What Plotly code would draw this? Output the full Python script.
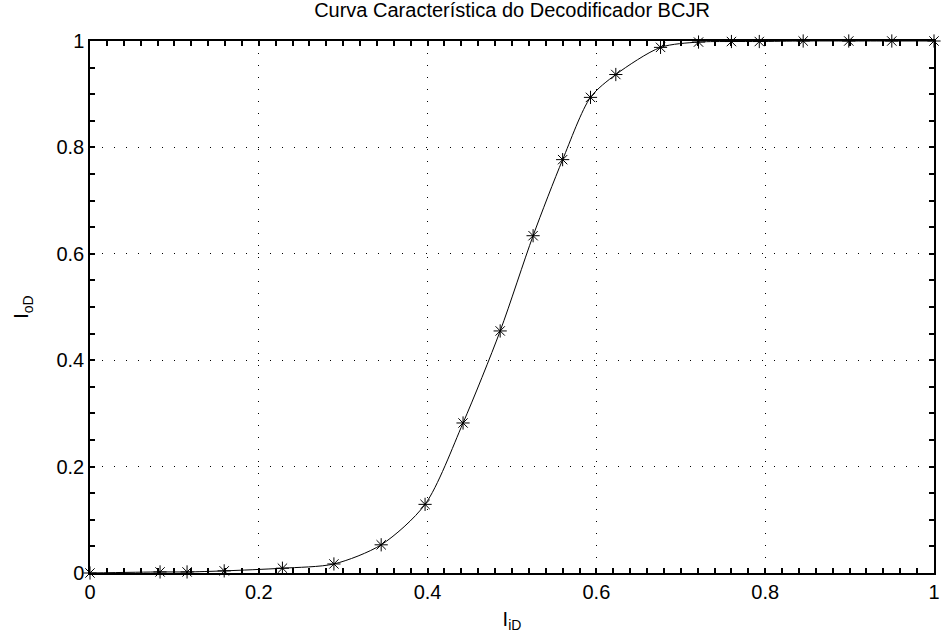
import plotly.graph_objects as go

# EXIT-style transfer characteristic of the BCJR decoder
i_in = [0.0, 0.083, 0.115, 0.159, 0.228, 0.289, 0.345, 0.397, 0.442, 0.486, 0.525,
        0.560, 0.593, 0.623, 0.676, 0.721, 0.760, 0.793, 0.845, 0.899, 0.950, 1.0]
i_out = [0.0, 0.002, 0.002, 0.004, 0.009, 0.017, 0.053, 0.129, 0.282, 0.455, 0.634,
         0.777, 0.894, 0.937, 0.988, 0.998, 0.999, 0.999, 1.0, 1.0, 1.0, 1.0]

# axis tick layout: major step and minor step for each axis
x_major, x_minor = 0.2, 0.02
y_major, y_minor = 0.2, 0.05
x_range = [0, 1]
y_range = [0, 1]

FONT = "Liberation Sans, Arial, Helvetica, sans-serif"

fig = go.Figure()
fig.add_trace(go.Scatter(
    x=i_in, y=i_out,
    mode="lines+markers",
    line=dict(color="black", width=1, shape="spline", smoothing=0.8),
    marker=dict(symbol="asterisk-open", size=11, color="black",
                line=dict(color="black", width=1)),
    cliponaxis=False,
    showlegend=False,
))

axis_common = dict(
    showline=True, linecolor="black", linewidth=1.5,
    mirror="allticks",
    tickmode="linear", tick0=0,
    ticks="inside", ticklen=5, tickcolor="black", tickwidth=1.5,
    showgrid=True, gridcolor="black", gridwidth=1, griddash="1px,11px",
    zeroline=False,
    tickfont=dict(family=FONT, size=20, color="black"),
)

fig.update_xaxes(
    **axis_common,
    range=x_range, dtick=x_major,
    minor=dict(tick0=0, dtick=x_minor, ticks="inside", ticklen=5, tickcolor="black",
               tickwidth=1.5, showgrid=False),
    title=dict(text="I<sub>iD</sub>", font=dict(family=FONT, size=20, color="black"),
               standoff=10),
)
fig.update_yaxes(
    **axis_common,
    range=y_range, dtick=y_major,
    minor=dict(tick0=0, dtick=y_minor, ticks="inside", ticklen=5, tickcolor="black",
               tickwidth=1.5, showgrid=False),
    title=dict(text="I<sub>oD</sub>", font=dict(family=FONT, size=20, color="black"),
               standoff=22),
)

fig.update_layout(
    width=946, height=644,
    margin=dict(l=90, r=6, t=41, b=71),
    paper_bgcolor="white", plot_bgcolor="white",
    title=dict(text="Curva Característica do Decodificador BCJR",
               font=dict(family=FONT, size=20, color="black"),
               x=0.5, xanchor="center", xref="paper", y=0.985, yanchor="middle"),
)

fig.write_html("out.html")
